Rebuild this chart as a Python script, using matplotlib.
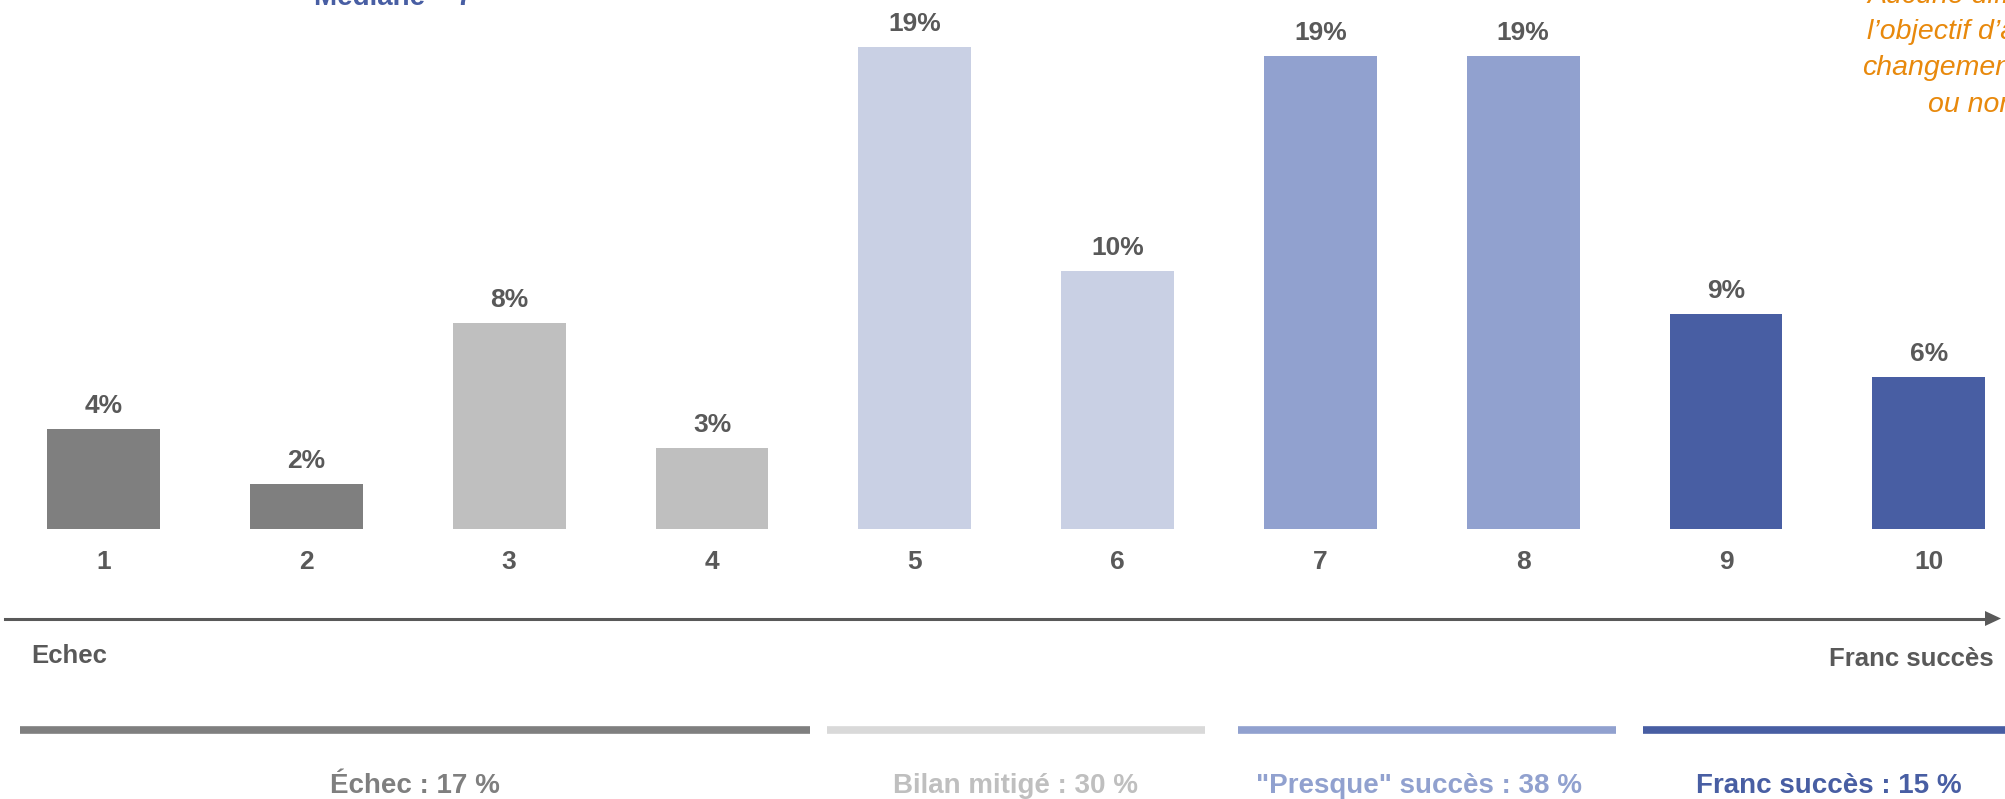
import matplotlib
matplotlib.use("Agg")
import matplotlib.pyplot as plt
from matplotlib.lines import Line2D
from matplotlib.patches import Polygon
import matplotlib.transforms as mtransforms

plt.rcParams['font.family'] = ['Liberation Sans', 'DejaVu Sans']

# ---- data ----
categories = ['1', '2', '3', '4', '5', '6', '7', '8', '9', '10']
values = [4.0, 1.8, 8.3, 3.25, 19.4, 10.4, 19.05, 19.05, 8.65, 6.1]
value_labels = ['4%', '2%', '8%', '3%', '19%', '10%', '19%', '19%', '9%', '6%']
bar_colors = ['#7F7F7F', '#7F7F7F', '#BFBFBF', '#BFBFBF', '#C9D0E4', '#C9D0E4',
              '#91A1CF', '#91A1CF', '#485EA3', '#485EA3']
group_labels = ['Échec : 17 %', 'Bilan mitigé : 30 %', '"Presque" succès : 38 %', 'Franc succès : 15 %']
group_colors = ['#7F7F7F', '#BFBFBF', '#91A1CF', '#485EA3']
group_line_colors = ['#7F7F7F', '#D9D9D9', '#91A1CF', '#485EA3']
orange_lines = ['Aucune difficulté', "l’objectif d’amélioration", 'changement', 'ou non']

TXT = '#595959'
ORANGE = '#E8890C'
W, H = 2006, 799

fig = plt.figure(figsize=(W / 100, H / 100), dpi=100)
ax = fig.add_axes([0, 0, 1, 1])
ax.axis('off')

# scales: bar centres and baseline
spacing = 202.8
c1 = 103.6
base_from_bottom = H - 528.7
px_per_pct = 24.82
ax.set_xlim(1 - c1 / spacing, 1 + (W - c1) / spacing)
ax.set_ylim(-base_from_bottom / px_per_pct, (H - base_from_bottom) / px_per_pct)

xs = list(range(1, len(categories) + 1))
ax.bar(xs, values, width=0.557, color=bar_colors, linewidth=0)

for x, v, lab in zip(xs, values, value_labels):
    ax.annotate(lab, (x, v), xytext=(0, 11.5), textcoords='offset points',
                ha='center', va='baseline', fontsize=19, fontweight='bold', color=TXT)

def fy(px):
    return 1 - px / H

def fx(px):
    return px / W

blend = mtransforms.blended_transform_factory(ax.transData, fig.transFigure)
for x, c in zip(xs, categories):
    ax.text(x, fy(569), c, transform=blend, ha='center', va='baseline',
            fontsize=19, fontweight='bold', color=TXT)

# arrow axis
fig.add_artist(Line2D([fx(5), fx(1988)], [fy(618.5), fy(618.5)], transform=fig.transFigure,
                      color=TXT, linewidth=2.2))
fig.add_artist(Polygon([[fx(1985), fy(611)], [fx(2001), fy(618.5)], [fx(1985), fy(626)]],
                       closed=True, transform=fig.transFigure, facecolor=TXT, edgecolor='none'))

fig.text(fx(31), fy(663), 'Echec', ha='left', va='baseline', fontsize=18.5,
         fontweight='bold', color=TXT)
fig.text(fx(1994), fy(666), 'Franc succès', ha='right', va='baseline', fontsize=18.5,
         fontweight='bold', color=TXT)

# group lines
seg = [(20, 810), (827, 1205), (1238, 1616), (1643, 2010)]
centers = [415, 1016, 1419, 1829]
for (a, b), col in zip(seg, group_line_colors):
    fig.add_artist(Line2D([fx(a), fx(b)], [fy(729.5), fy(729.5)], transform=fig.transFigure,
                          color=col, linewidth=5.5, solid_capstyle='butt'))
for cx, lab, col in zip(centers, group_labels, group_colors):
    fig.text(fx(cx), fy(793), lab, ha='center', va='baseline', fontsize=20,
             fontweight='bold', color=col)

# median text (cut at the top)
fig.text(fx(314), fy(5), 'Médiane = 7', ha='left', va='baseline', fontsize=20,
         fontweight='bold', color='#485EA3')

# orange note, cut at the right edge
orange_x = [1867, 1867, 1862, 1928]
orange_y = [3, 39, 75, 112]
for ox, oy, t in zip(orange_x, orange_y, orange_lines):
    fig.text(fx(ox), fy(oy), t, ha='left', va='baseline', fontsize=20.5,
             fontstyle='italic', color=ORANGE)

fig.savefig('out.png', dpi=100)
